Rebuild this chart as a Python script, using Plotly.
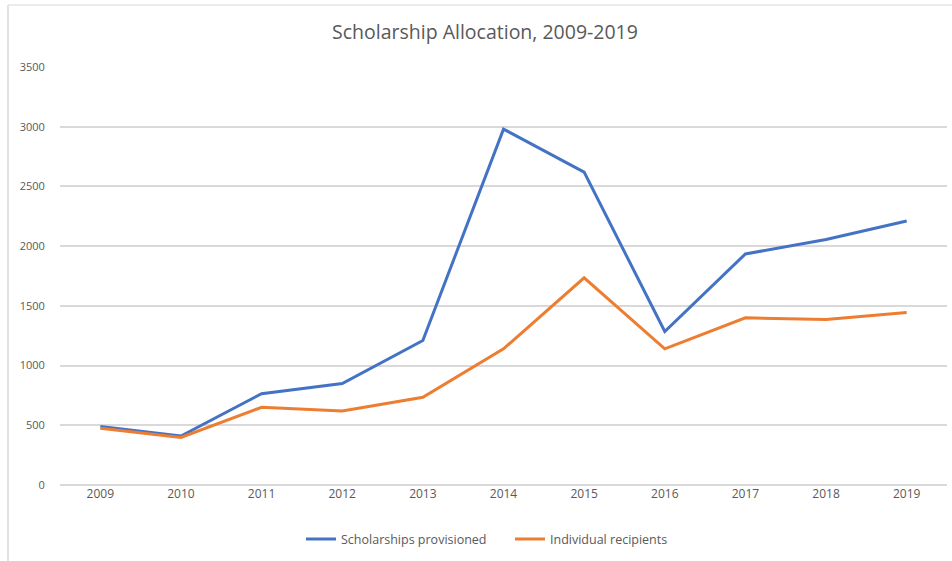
import plotly.graph_objects as go

years = ["2009", "2010", "2011", "2012", "2013", "2014", "2015", "2016", "2017", "2018", "2019"]
scholarships = [490, 410, 765, 850, 1210, 2980, 2620, 1285, 1935, 2055, 2210]
recipients = [475, 398, 650, 620, 735, 1140, 1735, 1140, 1400, 1385, 1445]
y_ticks = [0, 500, 1000, 1500, 2000, 2500, 3000, 3500]

FONT = "Open Sans"
TXT = "#595959"
GRID = "#d9d9d9"

fig = go.Figure()
fig.add_trace(go.Scatter(
    x=list(range(len(years))), y=scholarships, mode="lines",
    name="Scholarships provisioned",
    line=dict(color="#4472C4", width=3),
))
fig.add_trace(go.Scatter(
    x=list(range(len(years))), y=recipients, mode="lines",
    name="Individual recipients",
    line=dict(color="#ED7D31", width=3),
))

fig.update_layout(
    width=952, height=561,
    margin=dict(l=60, r=5, t=67, b=76),
    paper_bgcolor="white", plot_bgcolor="white",
    font=dict(family=FONT, color=TXT, size=12),
    title=dict(text="Scholarship Allocation, 2009-2019",
               x=(485 - 60) / 887, xref="paper", xanchor="center",
               y=0.942, yanchor="middle",
               font=dict(size=19.5, color=TXT, family=FONT)),
    showlegend=True,
    legend=dict(orientation="h", x=(301 - 60) / 887, xanchor="left", y=-0.13, yanchor="middle",
                font=dict(size=12.5, color=TXT), itemwidth=30, tracegroupgap=0,
                entrywidth=164, entrywidthmode="pixels"),
    xaxis=dict(
        range=[-0.5, 10.5], tickmode="array",
        tickvals=list(range(len(years))), ticktext=years,
        showgrid=False, zeroline=False, showline=False,
        ticks="", tickfont=dict(size=12, color=TXT), fixedrange=True,
    ),
    yaxis=dict(
        range=[0, 3500], tickmode="array", tickvals=y_ticks,
        ticktext=[str(v) for v in y_ticks],
        showgrid=True, gridcolor=GRID, gridwidth=1.5,
        zeroline=True, zerolinecolor=GRID, zerolinewidth=1.5,
        showline=False, ticks="outside", ticklen=12, tickcolor="rgba(0,0,0,0)",
        tickfont=dict(size=11, color=TXT),
    ),
    shapes=[
        # chart border (left and top edges)
        dict(type="line", xref="paper", yref="paper",
             x0=(8 - 60) / 887, x1=(8 - 60) / 887, y0=(485 - 5) / 418, y1=(485 - 561) / 418,
             line=dict(color="#d9d9d9", width=1.5)),
        dict(type="line", xref="paper", yref="paper",
             x0=(8 - 60) / 887, x1=(952 - 60) / 887, y0=(485 - 5) / 418, y1=(485 - 5) / 418,
             line=dict(color="#e6e6e6", width=1.5)),
    ],
)

fig.write_html("out.html")
